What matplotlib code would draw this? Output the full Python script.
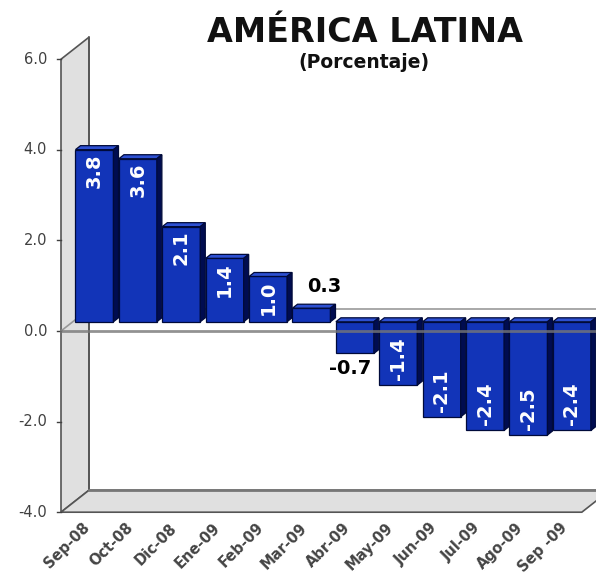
import matplotlib.pyplot as plt

# datos
meses = ['Sep-08', 'Oct-08', 'Dic-08', 'Ene-09', 'Feb-09', 'Mar-09',
         'Abr-09', 'May-09', 'Jun-09', 'Jul-09', 'Ago-09', 'Sep -09']
valores = [3.8, 3.6, 2.1, 1.4, 1.0, 0.3, -0.7, -1.4, -2.1, -2.4, -2.5, -2.4]
yticks = [6.0, 4.0, 2.0, 0.0, -2.0, -4.0]

# escala: una categoria = 43.4 px, una unidad = 45.3 px
CX, CY = 43.4, 45.3
DX, DY = 28 / CX, 22 / CY          # profundidad del "3D"
F0, F1 = 0.42, 0.60                # posicion de las barras en la profundidad
W = 0.875
YMIN, YMAX = -4.0, 6.0
n = len(valores)

fig = plt.figure(figsize=(5.96, 5.77), dpi=100)
ax = fig.add_axes([0, 0, 1, 1])
ax.set_xlim(-0.5 - 61 / CX, -0.5 + 535 / CX)
ax.set_ylim(-(577 - 331) / CY, 331 / CY)
ax.axis('off')

xl_wall = -0.5
x_end = n - 0.5
gris = '#e0e0e0'
borde = '#555555'

# pared izquierda
ax.fill([xl_wall, xl_wall + DX, xl_wall + DX, xl_wall],
        [YMAX, YMAX + DY, YMIN + DY, YMIN], color=gris, ec=borde, lw=1.2, zorder=1)
# piso
ax.fill([xl_wall, x_end, x_end + DX, xl_wall + DX],
        [YMIN, YMIN, YMIN + DY, YMIN + DY], color=gris, ec=borde, lw=1.2, zorder=1)
# borde de la pared del fondo
ax.plot([xl_wall + DX, xl_wall + DX], [YMIN + DY, YMAX + DY], color=borde, lw=1.2, zorder=1)
ax.plot([xl_wall + DX, x_end + DX], [YMIN + DY, YMIN + DY], color='#777777', lw=2, zorder=1)

# plano cero
ax.plot([xl_wall, xl_wall + DX, x_end + DX], [0, DY, DY], color='#999999', lw=1.2, zorder=1)

# ejes y
for t in yticks:
    ax.text(xl_wall - 14 / CX, t, f'{t:.1f}', ha='right', va='center',
            fontsize=10.5, color='#404040')
    ax.plot([xl_wall - 4 / CX, xl_wall], [t, t], color='#404040', lw=1, zorder=1)

# barras
b = F0 * DY
ddx, ddy = (F1 - F0) * DX, (F1 - F0) * DY
xs = [i + F0 * DX for i in range(n)]
ax.bar(xs, valores, width=W, bottom=b, color='#1234b8', edgecolor='#000a3a',
       linewidth=0.9, zorder=3)
for x, v in zip(xs, valores):
    xl, xr = x - W / 2, x + W / 2
    yt = b + max(v, 0)
    yb = b + min(v, 0)
    ax.fill([xl, xr, xr + ddx, xl + ddx], [yt, yt, yt + ddy, yt + ddy],
            color='#2d50d2', ec='#000a3a', lw=0.9, zorder=3)
    ax.fill([xr, xr, xr + ddx, xr + ddx], [yb, yt, yt + ddy, yb + ddy],
            color='#000c50', ec='#000a3a', lw=0.9, zorder=3)

# linea frontal del cero (por encima)
ax.plot([xl_wall, x_end + DX], [0, 0], color='#777777', lw=2, alpha=0.8, zorder=4)

# etiquetas de valores
for x, v in zip(xs, valores):
    txt = f'{v:.1f}'
    if abs(v) >= 1.0:
        if v > 0:
            ax.text(x, b + v - 4 / CY, txt, rotation=90, ha='center', va='top',
                    color='white', fontsize=14, fontweight='bold', zorder=5)
        else:
            ax.text(x, b + v + 5 / CY, txt, rotation=90, ha='center', va='bottom',
                    color='white', fontsize=14, fontweight='bold', zorder=5)
    elif v > 0:
        ax.text(x + 13 / CX, b + v + 22 / CY, txt, ha='center', va='center',
                color='black', fontsize=14, fontweight='bold', zorder=5)
    else:
        ax.text(x - 5 / CX, b + v - 15 / CY, txt, ha='center', va='center',
                color='black', fontsize=14, fontweight='bold', zorder=5)

# etiquetas del eje x
for i, m in enumerate(meses):
    ax.text(i - 0.02, YMIN - 8 / CY, m, rotation=45, rotation_mode='anchor',
            ha='right', va='top', fontsize=10.5, fontweight='bold', color='#444444')

fig.text(365 / 596, 1 - 33 / 577, 'AMÉRICA LATINA', ha='center', va='center',
         fontsize=24, fontweight='bold', color='#111111')
fig.text(364 / 596, 1 - 63 / 577, '(Porcentaje)', ha='center', va='center',
         fontsize=13.5, fontweight='bold', color='#111111')

fig.savefig('out.png', dpi=100)
